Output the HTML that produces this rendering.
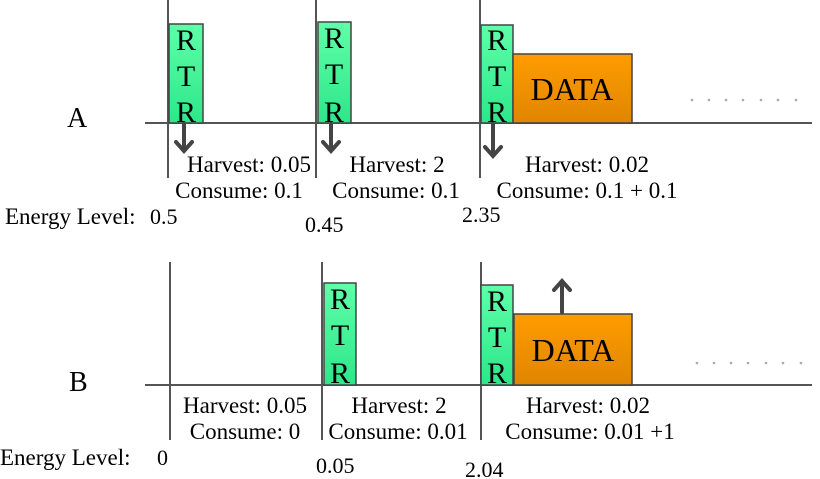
<!DOCTYPE html>
<html><head><style>body{margin:0;background:#fff}svg{display:block}text{font-family:"Liberation Serif",serif;fill:#000}</style></head><body>
<svg width="820" height="479" viewBox="0 0 820 479">
<defs>
<linearGradient id="g" x1="0" y1="0" x2="0" y2="1"><stop offset="0" stop-color="#5effa8"/><stop offset="1" stop-color="#2ee68a"/></linearGradient>
<linearGradient id="o" x1="0" y1="0" x2="0" y2="1"><stop offset="0" stop-color="#ff9c00"/><stop offset="1" stop-color="#e08500"/></linearGradient>
</defs>
<g stroke="#555" stroke-width="2">
<line x1="145" y1="123" x2="812" y2="123"/>
<line x1="168" y1="0" x2="168" y2="178"/><line x1="316" y1="0" x2="316" y2="178"/><line x1="480" y1="0" x2="480" y2="178"/>
<line x1="145" y1="385" x2="812" y2="385"/>
<line x1="170" y1="262" x2="170" y2="440"/><line x1="322" y1="262" x2="322" y2="440"/><line x1="481" y1="262" x2="481" y2="440"/>
</g>
<g stroke="#444" stroke-width="1.5">
<rect x="169" y="24" width="34" height="99" fill="url(#g)"/>
<rect x="318" y="22" width="33" height="101" fill="url(#g)"/>
<rect x="481" y="25" width="32" height="98" fill="url(#g)"/>
<rect x="513" y="54" width="119" height="69" fill="url(#o)"/>
<rect x="324" y="283" width="32" height="102" fill="url(#g)"/>
<rect x="481" y="285" width="32" height="100" fill="url(#g)"/>
<rect x="514" y="314" width="118" height="71" fill="url(#o)"/>
</g>
<g font-size="30" text-anchor="middle">
<text x="186" y="50">R</text><text x="186" y="86">T</text><text x="186" y="122">R</text>
<text x="334" y="48">R</text><text x="334" y="84">T</text><text x="334" y="122">R</text>
<text x="497" y="50">R</text><text x="497" y="86">T</text><text x="497" y="122">R</text>
<text x="340" y="309">R</text><text x="340" y="345">T</text><text x="340" y="383">R</text>
<text x="497" y="311">R</text><text x="497" y="347">T</text><text x="497" y="383">R</text>
<text x="572" y="100" font-size="32">DATA</text><text x="573" y="361" font-size="32">DATA</text>
</g>
<g stroke="#444" stroke-width="4" fill="none" stroke-linecap="round">
<path d="M184 124V150M176 142L184 151L192 142"/>
<path d="M331 124V150M323 142L331 151L339 142"/>
<path d="M493 124V155M485 147L493 156L501 147"/>
<path d="M562 312V282M554 290L562 281L570 290"/>
</g>
<g fill="#aaa"><circle cx="692" cy="100" r="1.3"/><circle cx="709" cy="100" r="1.3"/><circle cx="726" cy="100" r="1.3"/><circle cx="743" cy="100" r="1.3"/><circle cx="761" cy="100" r="1.3"/><circle cx="778" cy="100" r="1.3"/><circle cx="796" cy="100" r="1.3"/>
<circle cx="697" cy="363" r="1.3"/><circle cx="714" cy="363" r="1.3"/><circle cx="731" cy="363" r="1.3"/><circle cx="748" cy="363" r="1.3"/><circle cx="766" cy="363" r="1.3"/><circle cx="783" cy="363" r="1.3"/><circle cx="801" cy="363" r="1.3"/></g>
<text x="67" y="127" font-size="28">A</text><text x="69" y="391" font-size="28">B</text>
<g font-size="23" text-anchor="middle">
<text x="249" y="172">Harvest: 0.05</text><text x="239" y="198">Consume: 0.1</text>
<text x="397" y="172">Harvest: 2</text><text x="396" y="198">Consume: 0.1</text>
<text x="587" y="172">Harvest: 0.02</text><text x="587" y="198">Consume: 0.1 + 0.1</text>
<text x="245" y="413">Harvest: 0.05</text><text x="245" y="439">Consume: 0</text>
<text x="399" y="413">Harvest: 2</text><text x="398" y="439">Consume: 0.01</text>
<text x="588" y="413">Harvest: 0.02</text><text x="590" y="439">Consume: 0.01 +1</text>
</g>
<g font-size="22">
<text x="5" y="224" font-size="23">Energy Level:</text><text x="150" y="224">0.5</text><text x="305" y="232">0.45</text><text x="462" y="222">2.35</text>
<text x="0" y="465" font-size="23">Energy Level:</text><text x="157" y="465">0</text><text x="316" y="473">0.05</text><text x="465" y="477">2.04</text>
</g>
</svg>
</body></html>
